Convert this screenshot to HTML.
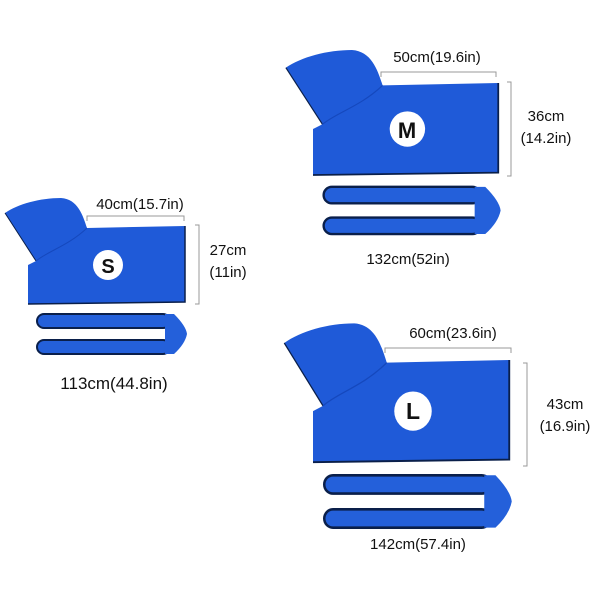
<!DOCTYPE html>
<html><head><style>
body{margin:0;background:#fff;}
svg{display:block}
text{font-family:"Liberation Sans",sans-serif;fill:#111;text-anchor:middle}
</style></head><body>
<svg width="600" height="600" viewBox="0 0 600 600">
<defs>
<g id="coat">
<path d="M-23,-13 C-10,-22 12,-28 33,-28 C50,-27 55,-10 59,2 L157,0 L157,76 L0,78 L0,39 L8,35 Z" fill="#1f5ad8"/>
<path d="M157,0 L157,76 L0,78" fill="none" stroke="#0a1f4a" stroke-width="1.5"/>
<path d="M-23,-13 L8,35" fill="none" stroke="#0a1f4a" stroke-width="1"/>
<path d="M8,35 C20,25 40,20 59,2" fill="none" stroke="#1548bd" stroke-width="1"/>
<rect x="9" y="88" width="133" height="14" rx="7" fill="#2460da" stroke="#0a1f4a" stroke-width="2"/>
<rect x="9" y="114" width="133" height="14" rx="7" fill="#2460da" stroke="#0a1f4a" stroke-width="2"/>
<path d="M137,88 L146,88 Q158,100 159,108 Q157,118 146,128 L137,128 Z" fill="#2460da"/>
<circle cx="80" cy="39" r="15" fill="#fff"/>
</g>
</defs>
<g transform="translate(28,226)"><use href="#coat"/></g>
<g transform="translate(313,83) scale(1.18,1.18)"><use href="#coat"/></g>
<g transform="translate(313,360) scale(1.25,1.31)"><use href="#coat"/></g>
<g font-weight="bold">
<text x="108" y="273" font-size="20">S</text>
<text x="407" y="138" font-size="22">M</text>
<text x="413" y="419" font-size="23">L</text>
</g>
<g stroke="#999" stroke-width="1" fill="none">
<path d="M87,221 V216 H184 V221"/>
<path d="M195,225 H199 V304 H195"/>
<path d="M381,77 V72 H496 V77"/>
<path d="M507,82 H511 V176 H507"/>
<path d="M385,353 V348 H511 V353"/>
<path d="M523,363 H527 V466 H523"/>
</g>
<g font-size="15">
<text x="140" y="209">40cm(15.7in)</text>
<text x="228" y="255">27cm</text>
<text x="228" y="277">(11in)</text>
<text x="437" y="62">50cm(19.6in)</text>
<text x="546" y="121">36cm</text>
<text x="546" y="143">(14.2in)</text>
<text x="408" y="264">132cm(52in)</text>
<text x="453" y="338">60cm(23.6in)</text>
<text x="565" y="409">43cm</text>
<text x="565" y="431">(16.9in)</text>
<text x="418" y="549">142cm(57.4in)</text>
</g>
<text x="114" y="389" font-size="17">113cm(44.8in)</text>
</svg>
</body></html>
